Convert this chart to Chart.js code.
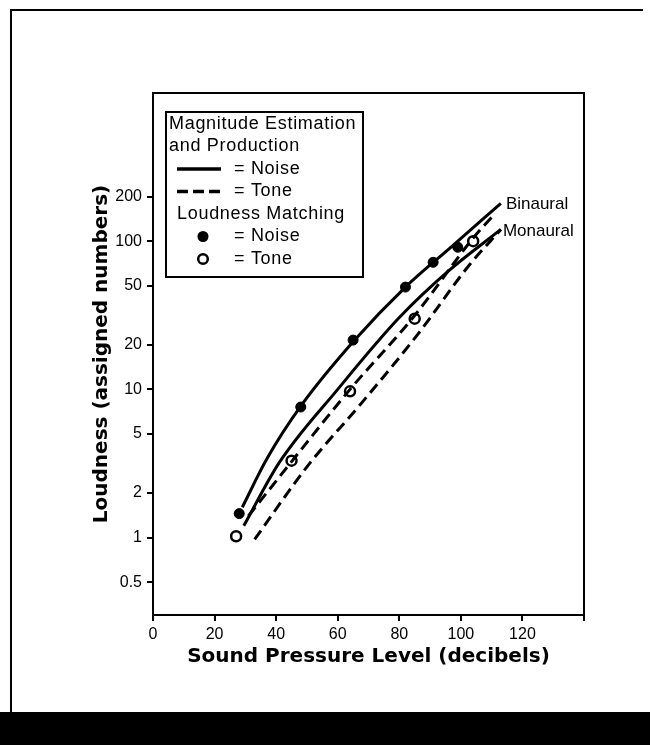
<!DOCTYPE html>
<html>
<head>
<meta charset="utf-8">
<script src="https://cdn.jsdelivr.net/npm/chart.js@4"></script>
<style>
  html, body { margin: 0; padding: 0; background: #fff; }
  canvas { display: block; }
</style>
</head>
<body>
<canvas id="loudness" width="650" height="745"></canvas>
<script>
// magnitude estimation / production curves (dB SPL vs assigned numbers)
const noiseBinauralX = [29, 37, 48, 65.5, 82, 97, 113];
const noiseBinauralY = [1.6, 3.4, 7.7, 21.5, 49, 92, 180];
const noiseMonauralX = [29.5, 41, 60, 80, 96, 113];
const noiseMonauralY = [1.2, 3.2, 10, 30.5, 63, 120];
const toneBinauralX = [31, 45.5, 64, 85, 104, 110];
const toneBinauralY = [1.4, 3.35, 10, 31.5, 105, 145];
const toneMonauralX = [33, 50, 68, 86, 102.5, 113];
const toneMonauralY = [0.97, 3.0, 8.2, 23.5, 68, 120];

// loudness matching points
const matchNoiseX = [28, 48, 65, 82, 91, 99];
const matchNoiseY = [1.45, 7.6, 21.5, 49, 72, 91];
const matchToneX = [27, 45, 64, 85, 104];
const matchToneY = [1.02, 3.3, 9.7, 30, 100];

const yTicks = [0.5, 1, 2, 5, 10, 20, 50, 100, 200];
const xTicks = [0, 20, 40, 60, 80, 100, 120, 140];

const legendLines = [
    'Magnitude Estimation',
    'and Production',
    '= Noise',
    '= Tone',
    'Loudness Matching',
    '= Noise',
    '= Tone'
];

function pts(xs, ys) {
    return xs.map((x, i) => ({ x: x, y: ys[i] }));
}

const FONT = "'Liberation Sans', Arial, sans-serif";
const BOLD = "'DejaVu Sans', 'Liberation Sans', sans-serif";

const curve = (label, xs, ys, dashed) => ({
    label: label,
    data: pts(xs, ys),
    borderColor: '#000',
    borderWidth: 3,
    borderDash: dashed ? [11, 6] : [],
    pointRadius: 0,
    fill: false,
    cubicInterpolationMode: 'monotone',
    showLine: true
});

const ctx = document.getElementById('loudness').getContext('2d');

new Chart(ctx, {
    type: 'scatter',
    data: {
        datasets: [
            curve('Binaural', noiseBinauralX, noiseBinauralY, false),
            curve('Monaural', noiseMonauralX, noiseMonauralY, false),
            curve('Binaural tone', toneBinauralX, toneBinauralY, true),
            curve('Monaural tone', toneMonauralX, toneMonauralY, true),
            {
                label: 'Matching noise',
                data: pts(matchNoiseX, matchNoiseY),
                pointRadius: 5,
                pointBackgroundColor: '#000',
                pointBorderColor: '#000',
                showLine: false
            },
            {
                label: 'Matching tone',
                data: pts(matchToneX, matchToneY),
                pointRadius: 5,
                pointBackgroundColor: '#fff',
                pointBorderColor: '#000',
                pointBorderWidth: 2.5,
                showLine: false
            }
        ]
    },
    options: {
        responsive: false,
        animation: false,
        devicePixelRatio: 1,
        layout: {
            padding: { left: 90, top: 93, right: 66, bottom: 60 }
        },
        plugins: {
            legend: { display: false },
            tooltip: { enabled: false }
        },
        scales: {
            x: {
                type: 'linear',
                min: 0,
                max: 140,
                afterBuildTicks: function(scale) {
                    scale.ticks = xTicks.map(v => ({ value: v }));
                },
                afterFit: function(scale) { scale.height = 70; },
                ticks: {
                    color: '#000',
                    font: { family: FONT, size: 16 },
                    padding: 4,
                    maxRotation: 0,
                    callback: v => (v === 140 ? '' : v)
                },
                grid: {
                    display: true,
                    drawOnChartArea: false,
                    drawTicks: true,
                    tickLength: 6,
                    color: '#000',
                    lineWidth: 2
                },
                border: { display: true, color: '#000', width: 2 },
                title: {
                    display: true,
                    text: 'Sound Pressure Level (decibels)',
                    color: '#000',
                    font: { family: BOLD, size: 20, weight: 'bold' },
                    padding: { top: 0, bottom: 16 }
                }
            },
            y: {
                type: 'logarithmic',
                min: 0.31,
                max: 1000,
                afterBuildTicks: function(scale) {
                    scale.ticks = yTicks.map(v => ({ value: v }));
                },
                afterFit: function(scale) { scale.width = 63; },
                ticks: {
                    color: '#000',
                    font: { family: FONT, size: 16 },
                    padding: 5,
                    callback: v => String(v)
                },
                grid: {
                    display: true,
                    drawOnChartArea: false,
                    drawTicks: true,
                    tickLength: 6,
                    color: '#000',
                    lineWidth: 2
                },
                border: { display: true, color: '#000', width: 2 },
                title: {
                    display: true,
                    text: 'Loudness (assigned numbers)',
                    color: '#000',
                    font: { family: BOLD, size: 20, weight: 'bold' },
                    padding: { top: 0, bottom: 0 }
                }
            }
        }
    },
    plugins: [{
        id: 'figureFrame',
        beforeDraw: function(chart) {
            const c = chart.ctx;
            c.save();
            c.fillStyle = '#fff';
            c.fillRect(0, 0, chart.width, chart.height);
            // outer figure frame with the heavy bottom band
            c.strokeStyle = '#000';
            c.lineWidth = 2;
            c.beginPath();
            c.moveTo(11, 712);
            c.lineTo(11, 10);
            c.lineTo(643, 10);
            c.stroke();
            c.fillStyle = '#000';
            c.fillRect(0, 712, chart.width, chart.height - 712);
            c.restore();
        },
        afterDraw: function(chart) {
            const c = chart.ctx;
            const a = chart.chartArea;
            const xs = chart.scales.x;
            const ys = chart.scales.y;
            c.save();
            // plot box
            c.strokeStyle = '#000';
            c.lineWidth = 2;
            c.strokeRect(a.left, a.top, a.right - a.left, a.bottom - a.top);

            // curve end labels
            c.fillStyle = '#000';
            c.font = '17px ' + FONT;
            c.textAlign = 'left';
            c.textBaseline = 'middle';
            const nb = noiseBinauralX.length - 1;
            c.fillText('Binaural', xs.getPixelForValue(noiseBinauralX[nb]) + 5,
                ys.getPixelForValue(noiseBinauralY[nb]) + 1);
            const nm = noiseMonauralX.length - 1;
            c.fillText('Monaural', xs.getPixelForValue(noiseMonauralX[nm]) + 2,
                ys.getPixelForValue(noiseMonauralY[nm]) + 2);

            // legend box
            const bx = a.left + 13, by = a.top + 19, bw = 197, bh = 165;
            c.lineWidth = 2;
            c.strokeRect(bx, by, bw, bh);
            const step = 22.5;
            const row = i => by + 12 + i * step;
            c.font = '18px ' + FONT;
            c.letterSpacing = '0.7px';
            c.fillText(legendLines[0], bx + 3, row(0));
            c.fillText(legendLines[1], bx + 3, row(1));
            c.fillText(legendLines[2], bx + 68, row(2));
            c.fillText(legendLines[3], bx + 68, row(3));
            c.fillText(legendLines[4], bx + 11, row(4));
            c.fillText(legendLines[5], bx + 68, row(5));
            c.fillText(legendLines[6], bx + 68, row(6));
            c.lineWidth = 3.5;
            c.beginPath();
            c.moveTo(bx + 11, row(2));
            c.lineTo(bx + 55, row(2));
            c.stroke();
            c.setLineDash([11, 5]);
            c.beginPath();
            c.moveTo(bx + 11, row(3));
            c.lineTo(bx + 55, row(3));
            c.stroke();
            c.setLineDash([]);
            c.beginPath();
            c.arc(bx + 37, row(5), 5.5, 0, Math.PI * 2);
            c.fill();
            c.lineWidth = 2.5;
            c.fillStyle = '#fff';
            c.beginPath();
            c.arc(bx + 37, row(6), 4.8, 0, Math.PI * 2);
            c.fill();
            c.stroke();
            c.restore();
        }
    }]
});
</script>
</body>
</html>
